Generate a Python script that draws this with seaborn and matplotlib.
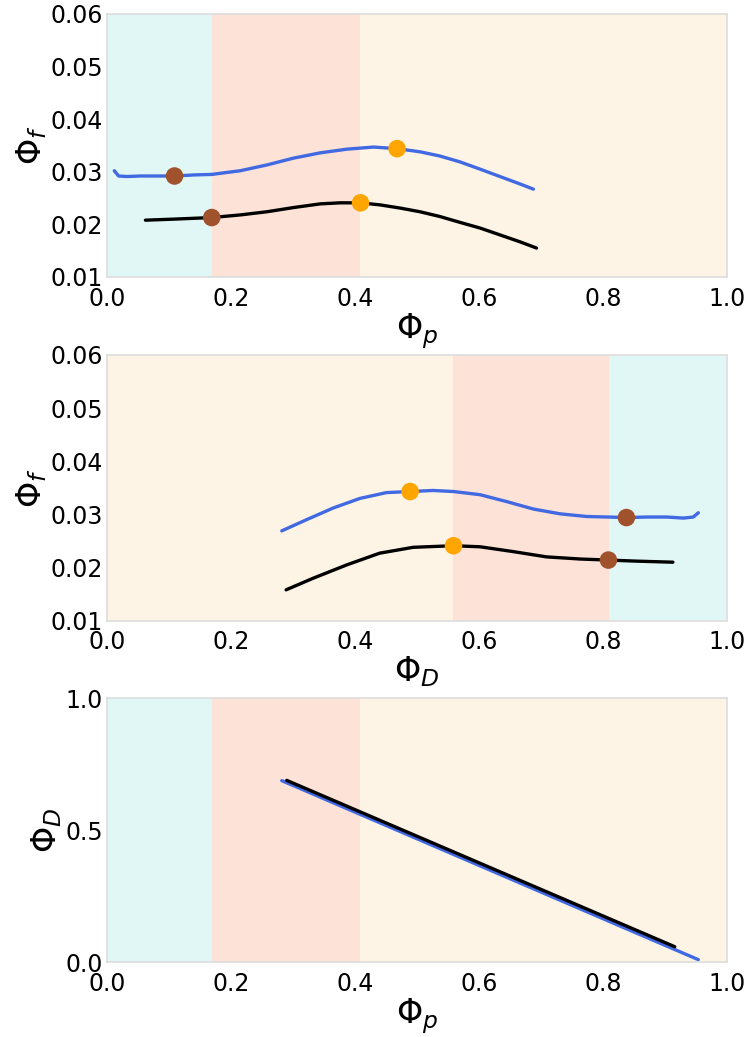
import numpy as np
import pandas as pd
import seaborn as sns
import matplotlib.pyplot as plt

# panel 1: phi_f against phi_p
p1_blue_x = [0.0118, 0.0188, 0.032, 0.054, 0.081, 0.109, 0.140, 0.169, 0.215, 0.258,
             0.301, 0.344, 0.387, 0.430, 0.468, 0.505, 0.537, 0.569, 0.602, 0.634,
             0.666, 0.688]
p1_blue_y = [0.0302, 0.0292, 0.0291, 0.0292, 0.0292, 0.0292, 0.0294, 0.0295, 0.0302, 0.0313,
             0.0326, 0.0336, 0.0343, 0.0347, 0.0344, 0.0338, 0.0330, 0.0319, 0.0305, 0.0291,
             0.0277, 0.0267]
p1_black_x = [0.062, 0.108, 0.169, 0.215, 0.258, 0.301, 0.344, 0.376, 0.409, 0.441,
              0.473, 0.505, 0.537, 0.569, 0.602, 0.634, 0.666, 0.693]
p1_black_y = [0.0208, 0.0210, 0.0213, 0.0218, 0.0224, 0.0232, 0.0239, 0.0241, 0.0241, 0.0237,
              0.0231, 0.0224, 0.0215, 0.0204, 0.0193, 0.0180, 0.0167, 0.0155]
p1_brown = ([0.109, 0.169], [0.0292, 0.0213])
p1_orange = ([0.468, 0.409], [0.0344, 0.0241])

# panel 2: phi_f against phi_D
p2_blue_x = [0.282, 0.322, 0.365, 0.408, 0.451, 0.489, 0.526, 0.559, 0.602, 0.645,
             0.688, 0.731, 0.774, 0.809, 0.838, 0.870, 0.903, 0.930, 0.946, 0.954]
p2_blue_y = [0.0269, 0.0290, 0.0312, 0.0330, 0.0341, 0.0343, 0.0345, 0.0343, 0.0337, 0.0324,
             0.0310, 0.0301, 0.0296, 0.0295, 0.0294, 0.0295, 0.0295, 0.0293, 0.0295, 0.0303]
p2_black_x = [0.289, 0.333, 0.387, 0.440, 0.494, 0.559, 0.602, 0.655, 0.709, 0.763,
              0.809, 0.854, 0.913]
p2_black_y = [0.0158, 0.0180, 0.0205, 0.0227, 0.0238, 0.0241, 0.0239, 0.0230, 0.0220, 0.0216,
              0.0214, 0.0212, 0.0210]
p2_orange = ([0.489, 0.559], [0.0343, 0.0241])
p2_brown = ([0.838, 0.809], [0.0294, 0.0214])

# panel 3
p3_blue_x = [0.282, 0.954]
p3_blue_y = [0.687, 0.009]
p3_black_x = [0.290, 0.916]
p3_black_y = [0.688, 0.058]

# shaded regions (start, end, colour)
cyan, salmon, beige = "#e1f7f6", "#fde2d8", "#fdf4e6"
bands_p = [(0.0, 0.169, cyan), (0.169, 0.409, salmon), (0.409, 1.0, beige)]
bands_d = [(0.0, 0.558, beige), (0.558, 0.810, salmon), (0.810, 1.0, cyan)]

blue = "#4169e1"
brown = "#a0522d"
orange = "#ffa500"

sns.set_style("white")
plt.rcParams['font.family'] = ['DejaVu Sans']
plt.rcParams['mathtext.fontset'] = 'dejavusans'
plt.rcParams['text.color'] = 'black'
plt.rcParams['axes.labelcolor'] = 'black'
plt.rcParams['xtick.color'] = 'black'
plt.rcParams['ytick.color'] = 'black'

fig = plt.figure(figsize=(7.45, 10.37), dpi=100)
ax1 = fig.add_axes([0.1436, 0.7329, 0.832, 0.2536])
ax2 = fig.add_axes([0.1436, 0.4015, 0.832, 0.2562])
ax3 = fig.add_axes([0.1436, 0.0723, 0.832, 0.2546])


def shade(ax, bands):
    for a, b, c in bands:
        ax.axvspan(a, b, color=c, lw=0, zorder=0)


def style(ax, xlabel, ylabel, ylim, yticks, labelpad):
    ax.set_xlim(0, 1)
    ax.set_ylim(*ylim)
    ax.set_xticks([0.0, 0.2, 0.4, 0.6, 0.8, 1.0])
    ax.set_yticks(yticks)
    ax.tick_params(labelsize=17, length=0, pad=3)
    ax.tick_params(axis='x', pad=7)
    ax.set_xlabel(xlabel, fontsize=24, labelpad=0)
    ax.set_ylabel(ylabel, fontsize=24, labelpad=labelpad)
    for s in ax.spines.values():
        s.set_color("#dddddd")
        s.set_linewidth(1.2)


def curve(ax, x, y, color):
    df = pd.DataFrame({"x": x, "y": y})
    sns.lineplot(data=df, x="x", y="y", ax=ax, color=color, lw=2.4,
                 sort=False, estimator=None, zorder=2)


def dots(ax, pts, color):
    ax.scatter(pts[0], pts[1], s=160, color=color, zorder=3, edgecolors='none')


shade(ax1, bands_p)
curve(ax1, p1_blue_x, p1_blue_y, blue)
curve(ax1, p1_black_x, p1_black_y, "black")
dots(ax1, p1_brown, brown)
dots(ax1, p1_orange, orange)
fticks = [0.01, 0.02, 0.03, 0.04, 0.05, 0.06]
style(ax1, r"$\Phi_p$", r"$\Phi_f$", (0.01, 0.06), fticks, 1)

shade(ax2, bands_d)
curve(ax2, p2_blue_x, p2_blue_y, blue)
curve(ax2, p2_black_x, p2_black_y, "black")
dots(ax2, p2_orange, orange)
dots(ax2, p2_brown, brown)
style(ax2, r"$\Phi_D$", r"$\Phi_f$", (0.01, 0.06), fticks, 1)

shade(ax3, bands_p)
curve(ax3, p3_blue_x, p3_blue_y, blue)
curve(ax3, p3_black_x, p3_black_y, "black")
style(ax3, r"$\Phi_p$", r"$\Phi_D$", (0.0, 1.0), [0.0, 0.5, 1.0], 1)

for ax in (ax1, ax2, ax3):
    ax.yaxis.set_major_formatter(plt.FormatStrFormatter(
        '%.2f' if ax is not ax3 else '%.1f'))
    ax.xaxis.set_major_formatter(plt.FormatStrFormatter('%.1f'))

fig.savefig("out.png", dpi=100)
